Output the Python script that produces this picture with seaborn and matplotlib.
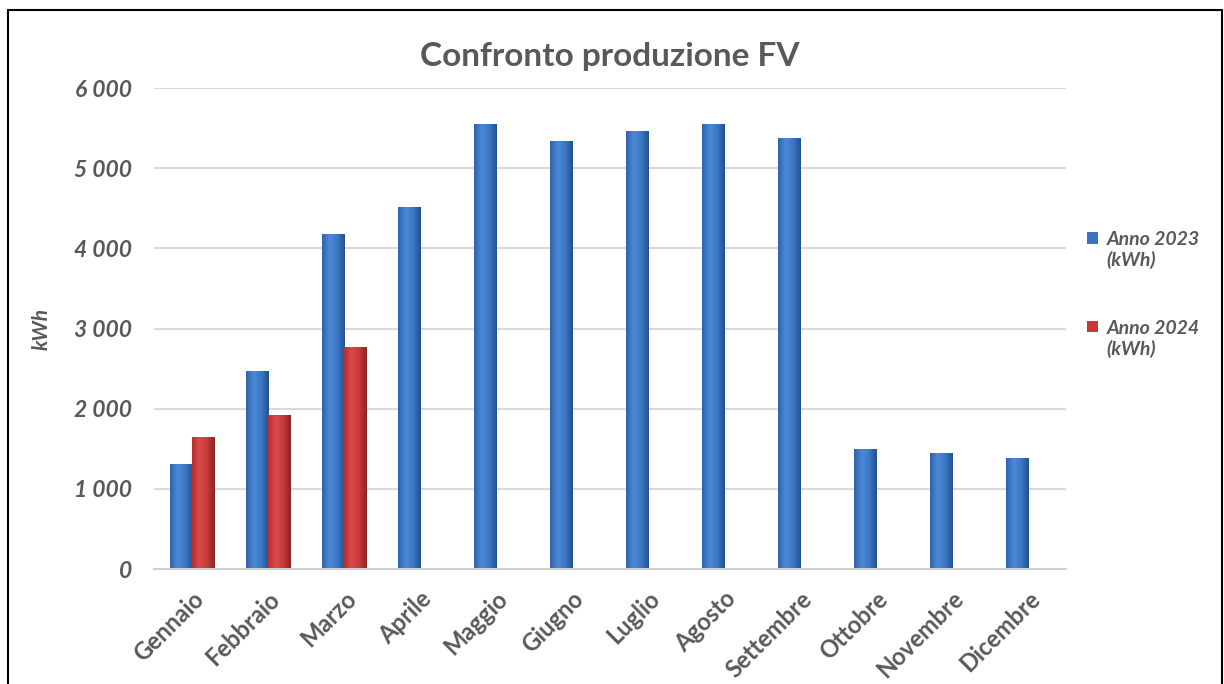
import numpy as np
import pandas as pd
import matplotlib.pyplot as plt
import matplotlib.patches as mpatches
from matplotlib.colors import LinearSegmentedColormap
from matplotlib.legend_handler import HandlerPatch
import seaborn as sns

# Dati produzione FV (kWh)
mesi = ['Gennaio', 'Febbraio', 'Marzo', 'Aprile', 'Maggio', 'Giugno',
        'Luglio', 'Agosto', 'Settembre', 'Ottobre', 'Novembre', 'Dicembre']
anno_2023 = [1310, 2470, 4180, 4515, 5550, 5340, 5465, 5550, 5375, 1497, 1447, 1385]
anno_2024 = [1650, 1920, 2775, None, None, None, None, None, None, None, None, None]
serie = ['Anno 2023\n(kWh)', 'Anno 2024\n(kWh)']
colori = ['#3A73C2', '#C93838']
y_ticks = [0, 1000, 2000, 3000, 4000, 5000, 6000]

df = pd.DataFrame({'mese': mesi * 2,
                   'serie': [serie[0]] * 12 + [serie[1]] * 12,
                   'kwh': anno_2023 + anno_2024})
df = df.dropna()

sns.set_theme(style='white')
plt.rcParams['font.family'] = ['Lato', 'DejaVu Sans']
grigio = '#595959'

fig = plt.figure(figsize=(12.24, 6.84), dpi=100)
ax = fig.add_axes([0.1258, 0.168, 0.7451, 0.7033])

sns.barplot(data=df, x='mese', y='kwh', hue='serie', order=mesi, hue_order=serie,
            palette=colori, width=0.58, gap=0, saturation=1, ax=ax,
            edgecolor='none', linewidth=0)

# effetto "cilindro" con sfumatura orizzontale su ogni barra
cmap_blu = LinearSegmentedColormap.from_list('blu', ['#2f62a8', '#4a8ad8', '#3a78c6', '#24518c'])
cmap_rosso = LinearSegmentedColormap.from_list('rosso', ['#b43030', '#dc4a4a', '#c63a3a', '#8e2323'])
grad = np.linspace(0, 1, 64).reshape(1, -1)
for p in list(ax.patches):
    x0, y0 = p.get_x(), p.get_y()
    w, h = p.get_width(), p.get_height()
    if h == 0 or np.isnan(h):
        continue
    fc = p.get_facecolor()
    cm = cmap_rosso if fc[0] > fc[2] else cmap_blu
    im = ax.imshow(grad, cmap=cm, aspect='auto', extent=(x0, x0 + w, y0, y0 + h),
                   zorder=p.get_zorder() + 0.1, interpolation='bicubic')
    im.set_clip_path(p)

ax.set_xlim(-0.5, len(mesi) - 0.5)
ax.set_ylim(0, 6000)
ax.set_yticks(y_ticks)
ax.set_yticklabels([f'{v:,}'.replace(',', ' ') for v in y_ticks],
                   fontsize=16.5, fontweight='bold', fontstyle='italic', color=grigio)
ax.set_xticks(range(len(mesi)))
ax.set_xticklabels(mesi, rotation=45, ha='right', rotation_mode='anchor',
                   fontsize=17, fontweight='bold', color=grigio)
ax.tick_params(axis='y', length=0, pad=16)
ax.tick_params(axis='x', length=0, pad=13)
ax.yaxis.grid(True, color='#d9d9d9', linewidth=1.5)
ax.set_axisbelow(True)
for s in ['top', 'right', 'left']:
    ax.spines[s].set_visible(False)
ax.spines['bottom'].set_color('#d0d0d0')
ax.spines['bottom'].set_linewidth(1.5)

ax.set_xlabel('')
ax.set_ylabel('kWh', fontsize=15, fontweight='bold', fontstyle='italic', color=grigio, labelpad=16)
ax.set_title('Confronto produzione FV', fontsize=24, fontweight='bold', color=grigio, pad=16)


# quadratino della legenda allineato alla prima riga del testo
def quadrato_alto(legend, orig_handle, xdescent, ydescent, width, height, fontsize):
    return mpatches.Rectangle((-xdescent, -ydescent + 0.62 * fontsize), width, height)


handles = [mpatches.Patch(facecolor=c, edgecolor='none') for c in colori]
leg = ax.legend(handles, serie, loc='upper left', bbox_to_anchor=(0.874, 0.688),
                bbox_transform=fig.transFigure, frameon=False, labelspacing=2.6,
                handlelength=0.55, handleheight=0.55, handletextpad=0.45,
                handler_map={mpatches.Patch: HandlerPatch(patch_func=quadrato_alto)},
                prop={'size': 14, 'weight': 'bold', 'style': 'italic'})
for t in leg.get_texts():
    t.set_color(grigio)

# cornice esterna
fig.patches.append(mpatches.Rectangle((0.0065, -0.05), 0.992, 1.035, transform=fig.transFigure,
                                      fill=False, edgecolor='black', linewidth=1.5))

fig.savefig('out.png', dpi=100)
